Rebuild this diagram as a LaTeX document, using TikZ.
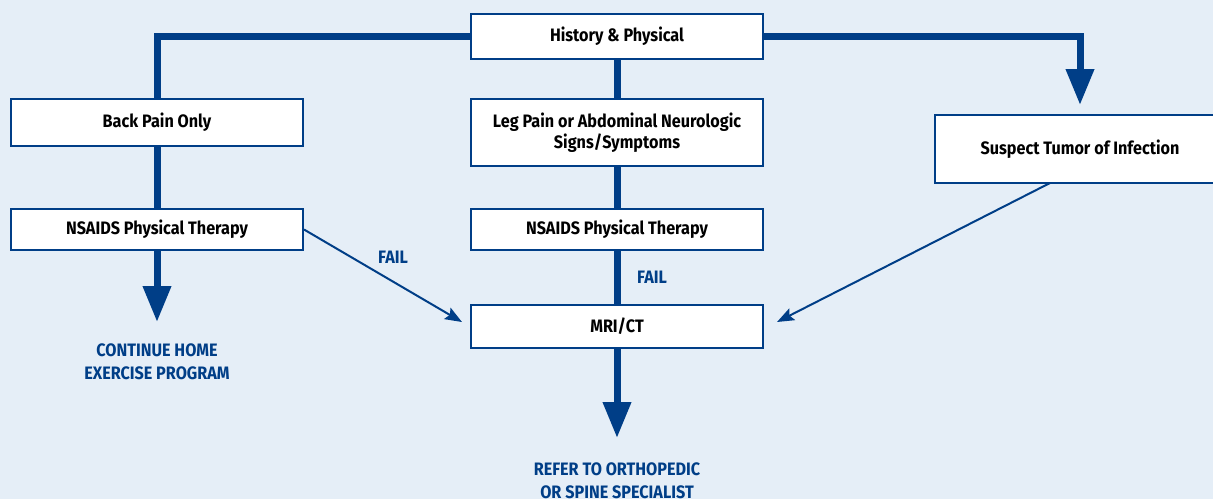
\documentclass[tikz,border=0pt]{standalone}
\usepackage{fontspec}
\setmainfont{Fira Sans}[FakeStretch=0.9]
\usetikzlibrary{arrows.meta}
\definecolor{bgc}{HTML}{E5EEF7}
\definecolor{navy}{HTML}{003E87}
\tikzset{
  box/.style={draw=navy, line width=2pt, fill=white, inner sep=0pt, minimum width=292pt, font=\fontsize{18}{21}\selectfont\bfseries, text=black, align=center},
  thickline/.style={draw=navy, line width=7pt, line join=miter},
  bighead/.style={-{Triangle[width=27pt,length=36pt]}},
  thinarrow/.style={draw=navy, line width=2pt, -{Stealth[length=17pt,width=13pt,inset=3pt]}},
  lab/.style={text=navy, font=\fontsize{18}{23}\selectfont\bfseries, align=center},
}
\begin{document}
\begin{tikzpicture}[x=1pt,y=-1pt]
\useasboundingbox (0,0) rectangle (1213,499);
\fill[bgc] (0,0) rectangle (1213,499);

\node[box, minimum height=45pt] (hist) at (617,36.5) {History \& Physical};
\node[box, minimum height=47pt] (back) at (157,122.5) {Back Pain Only};
\node[box, minimum height=67pt] (leg) at (617,132.5) {Leg Pain or Abdominal Neurologic\\Signs/Symptoms};
\node[box, minimum height=68pt, minimum width=290pt] (tumor) at (1080,149) {Suspect Tumor of Infection};
\node[box, minimum height=41pt] (nsl) at (157,229.5) {NSAIDS Physical Therapy};
\node[box, minimum height=41pt] (nsc) at (617,229.5) {NSAIDS Physical Therapy};
\node[box, minimum height=43pt] (mri) at (617,326.5) {MRI/CT};

\coordinate (endl) at (157,322);
\coordinate (endc) at (617,438);
\coordinate (t1) at (462,322);
\coordinate (t2) at (777,322);
\coordinate (s2) at (1050,183);

\node[lab] (fail1) at (393,257) {FAIL};
\node[lab] (fail2) at (652,277) {FAIL};
\node[lab] (home) at (157,362) {CONTINUE HOME\\EXERCISE PROGRAM};
\node[lab] (refer) at (617,481) {REFER TO ORTHOPEDIC\\OR SPINE SPECIALIST};

\draw[thickline] (hist.west) -| (back.north);
\draw[thickline, bighead, shorten >=9pt] (hist.east) -| (tumor.north);
\draw[thickline] (hist.south) -- (leg.north);
\draw[thickline] (back.south) -- (nsl.north);
\draw[thickline] (leg.south) -- (nsc.north);
\draw[thickline] (nsc.south) -- (mri.north);
\draw[thickline, bighead] (nsl.south) -- (endl);
\draw[thickline, bighead] (mri.south) -- (endc);
\draw[thinarrow] (nsl.east) -- (t1);
\draw[thinarrow] (s2) -- (t2);

% redraw boxes on top of connectors
\node[box, minimum height=45pt] at (hist) {History \& Physical};
\node[box, minimum height=47pt] at (back) {Back Pain Only};
\node[box, minimum height=67pt] at (leg) {Leg Pain or Abdominal Neurologic\\Signs/Symptoms};
\node[box, minimum height=41pt] at (nsl) {NSAIDS Physical Therapy};
\node[box, minimum height=41pt] at (nsc) {NSAIDS Physical Therapy};
\node[box, minimum height=43pt] at (mri) {MRI/CT};
\end{tikzpicture}
\end{document}
